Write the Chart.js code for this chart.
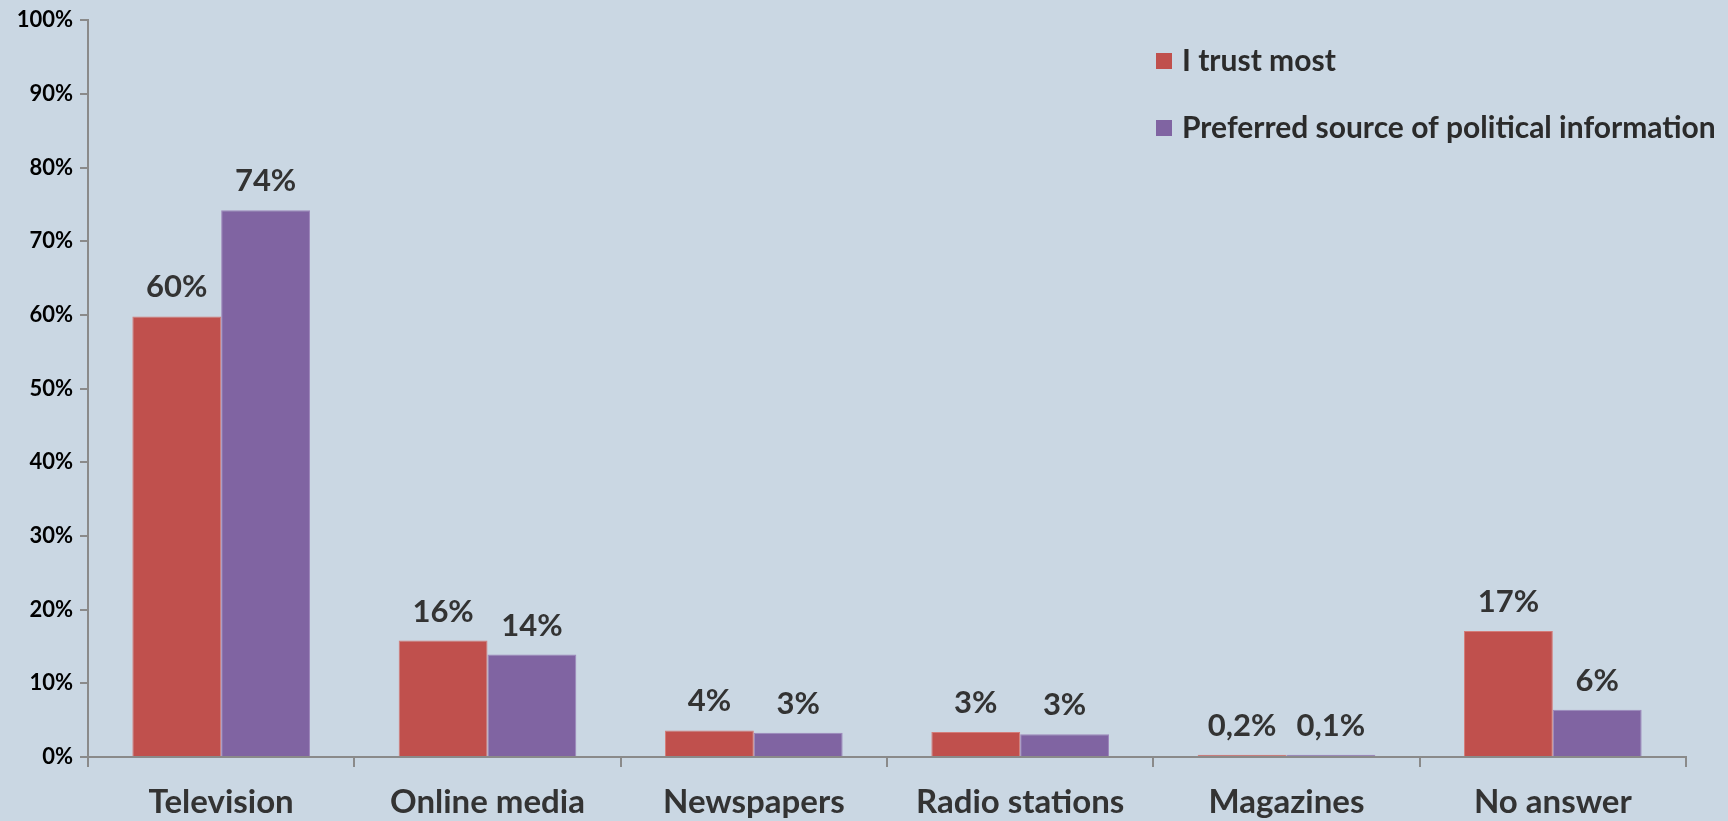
<!DOCTYPE html>
<html>
<head>
<meta charset="utf-8">
<title>Trusted and preferred media sources</title>
<script src="https://cdn.jsdelivr.net/npm/chart.js@4.4.1/dist/chart.umd.min.js"></script>
<style>
  html, body { margin: 0; padding: 0; background: #cad7e3; overflow: hidden; }
  #wrap { width: 1728px; height: 821px; position: relative; }
</style>
</head>
<body>
<div id="wrap"><canvas id="chart"></canvas></div>
<script>
// chart data
const categories = ['Television', 'Online media', 'Newspapers', 'Radio stations', 'Magazines', 'No answer'];
const seriesNames = ['I trust most', 'Preferred source of political information'];
const trustMost = [59.8, 15.8, 3.6, 3.4, 0.3, 17.1];
const preferredSource = [74.2, 13.9, 3.3, 3.1, 0.3, 6.4];
const trustLabels = ['60%', '16%', '4%', '3%', '0,2%', '17%'];
const preferredLabels = ['74%', '14%', '3%', '3%', '0,1%', '6%'];
const yTicks = [0, 10, 20, 30, 40, 50, 60, 70, 80, 90, 100];

const red = '#c0504d';
const purple = '#8064a2';
const axisGrey = '#8a8a8a';
const fontFamily = 'Lato, "Open Sans", sans-serif';

// value labels above each bar
const barLabels = {
  id: 'barLabels',
  afterDatasetsDraw(chart) {
    const ctx = chart.ctx;
    const texts = [trustLabels, preferredLabels];
    ctx.save();
    ctx.font = 'bold 31px ' + fontFamily;
    ctx.fillStyle = '#333333';
    ctx.textAlign = 'center';
    ctx.textBaseline = 'alphabetic';
    chart.data.datasets.forEach((ds, i) => {
      chart.getDatasetMeta(i).data.forEach((bar, j) => {
        ctx.fillText(texts[i][j], bar.x, bar.y - 19);
      });
    });
    ctx.restore();
  }
};

// legend stacked in the top right corner
const sideLegend = {
  id: 'sideLegend',
  afterDraw(chart) {
    const ctx = chart.ctx;
    const x = chart.width - 572;
    ctx.save();
    ctx.font = 'bold 30px ' + fontFamily;
    ctx.textBaseline = 'middle';
    ctx.textAlign = 'left';
    chart.data.datasets.forEach((ds, i) => {
      const y = 61 + i * 67;
      ctx.fillStyle = ds.backgroundColor;
      ctx.fillRect(x, y - 8, 16, 16);
      ctx.fillStyle = '#2b2b2b';
      ctx.fillText(ds.label, x + 26, y);
    });
    ctx.restore();
  }
};

new Chart(document.getElementById('chart'), {
  type: 'bar',
  data: {
    labels: categories,
    datasets: [
      { label: seriesNames[0], data: trustMost, backgroundColor: red, borderColor: '#d47c79', borderWidth: 1 },
      { label: seriesNames[1], data: preferredSource, backgroundColor: purple, borderColor: '#9c86bb', borderWidth: 1 }
    ]
  },
  options: {
    responsive: true,
    maintainAspectRatio: false,
    animation: false,
    datasets: { bar: { categoryPercentage: 0.667, barPercentage: 1.0 } },
    layout: { padding: { left: 0, right: 42, top: 6, bottom: 0 } },
    plugins: {
      legend: { display: false },
      tooltip: { enabled: false }
    },
    scales: {
      x: {
        afterFit(scale) { scale.height = 64; },
        grid: {
          offset: true,
          drawOnChartArea: false,
          drawTicks: true,
          tickLength: 10,
          color: axisGrey,
          lineWidth: 2
        },
        border: { color: axisGrey, width: 2 },
        ticks: {
          padding: 16,
          color: '#333333',
          font: { family: fontFamily, size: 33, weight: 'bold' }
        }
      },
      y: {
        min: 0,
        max: 100,
        afterBuildTicks(scale) {
          scale.ticks = yTicks.map(v => ({ value: v }));
        },
        afterFit(scale) { scale.width = 88; },
        grid: {
          drawOnChartArea: false,
          drawTicks: true,
          tickLength: 8,
          color: axisGrey,
          lineWidth: 2
        },
        border: { color: axisGrey, width: 2 },
        ticks: {
          padding: 7,
          color: '#000000',
          font: { family: fontFamily, size: 22, weight: 'bold' },
          callback: v => v + '%'
        }
      }
    }
  },
  plugins: [barLabels, sideLegend]
});
</script>
</body>
</html>
